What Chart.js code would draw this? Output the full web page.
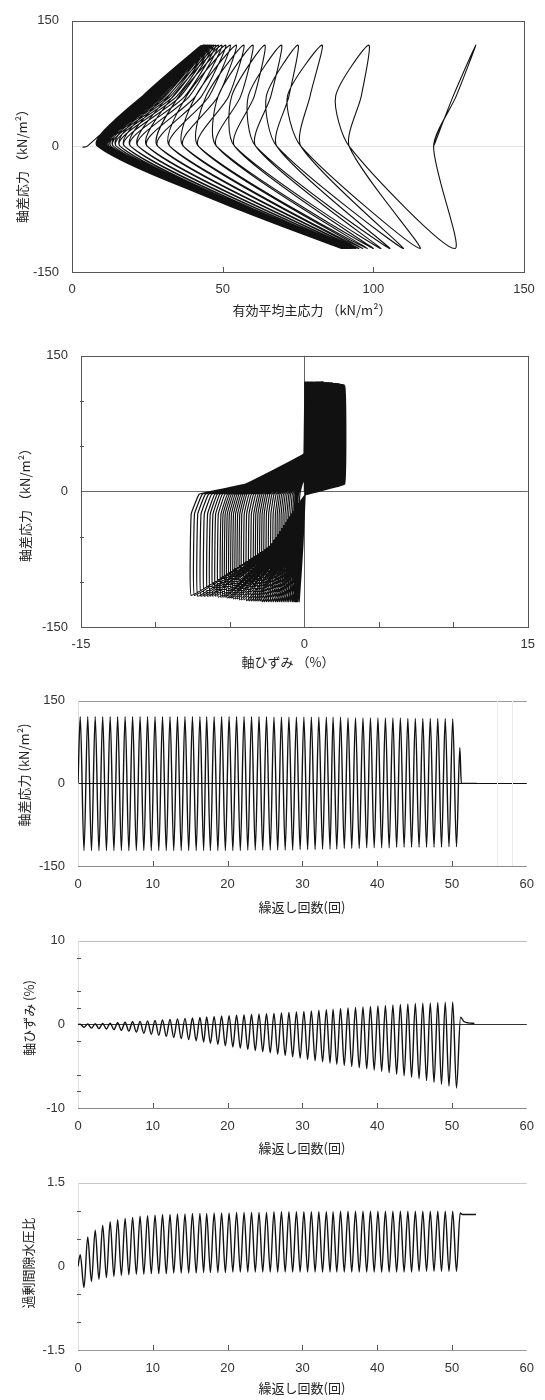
<!DOCTYPE html>
<html lang="ja">
<head>
<meta charset="utf-8">
<script src="https://cdn.jsdelivr.net/npm/chart.js@4.4.1/dist/chart.umd.min.js"></script>
<style>
  body { margin: 0; background: #fff; }
  #wrap { position: relative; width: 545px; height: 1400px; }
  canvas { position: absolute; left: 0; }
</style>
</head>
<body>
<div id="wrap">
  <canvas id="g1" width="545" height="330" style="top:0px"></canvas>
  <canvas id="g2" width="545" height="345" style="top:335px"></canvas>
  <canvas id="g3" width="545" height="240" style="top:680px"></canvas>
  <canvas id="g4" width="545" height="242" style="top:920px"></canvas>
  <canvas id="g5" width="545" height="238" style="top:1162px"></canvas>
</div>
<script>
// ---- cycle peaks read from the time histories (51 cycles) ----
const tTop = [0.3,1.3,2.3,3.3,4.3,5.3,6.3,7.3,8.3,9.3,10.3,11.3,12.3,13.3,14.3,15.3,16.3,
  17.2,18.2,19.2,20.2,21.2,22.2,23.2,24.2,25.2,26.2,27.2,28.2,29.2,30.2,31.2,32.2,33.2,
  34.1,35.1,36.1,37.1,38.1,39.1,40.1,41.1,42.1,43.1,44.1,45.1,46.1,47.1,48.1,49.1,50.1];
const tBot = [0.8,1.8,2.8,3.8,4.8,5.8,6.8,7.8,8.8,9.8,10.8,11.8,12.8,13.8,14.8,15.8,16.8,
  17.7,18.7,19.7,20.7,21.7,22.7,23.7,24.7,25.7,26.7,27.7,28.7,29.7,30.7,31.7,32.7,33.7,
  34.6,35.6,36.6,37.6,38.6,39.6,40.6,41.6,42.6,43.6,44.6,45.6,46.6,47.6,48.6,49.6,50.6];

// deviator stress at compression / extension peaks (kN/m2)
const qTop = [121,121,121,121,121,121,121,121,121,121,
  121,121,121,121,121,121,121,121,121,121,
  121,121,121,121,121,121,120,120,120,120,
  120,120,120,120,120,120,119,119,119,119,
  119,119,119,119,118,118,118,118,118,118,117];
const qBot = [-122,-122,-122,-122,-122,-122,-122,-122,-122,-122,
  -122,-122,-122,-122,-122,-122,-122,-122,-122,-122,
  -122,-122,-121,-121,-121,-121,-121,-121,-121,-120,
  -120,-120,-119,-119,-119,-118,-118,-118,-117,-117,
  -117,-117,-116,-116,-116,-116,-116,-116,-116,-115,-115];

// axial strain at the peaks (%)
const strainTop = [0.02,0.04,0.07,0.1,0.15,0.2,0.25,0.31,0.36,0.42,
  0.47,0.53,0.59,0.65,0.72,0.78,0.84,0.9,0.95,1.0,
  1.05,1.09,1.13,1.18,1.22,1.27,1.32,1.37,1.43,1.49,
  1.55,1.62,1.69,1.76,1.83,1.9,1.96,2.02,2.08,2.14,
  2.2,2.26,2.32,2.38,2.44,2.5,2.54,2.58,2.62,2.66,2.7];
const strainBot = [-0.35,-0.45,-0.5,-0.55,-0.62,-0.7,-0.8,-0.92,-1.05,-1.17,
  -1.3,-1.43,-1.56,-1.69,-1.82,-1.95,-2.1,-2.25,-2.4,-2.55,
  -2.7,-2.84,-2.98,-3.12,-3.26,-3.4,-3.56,-3.72,-3.88,-4.04,
  -4.2,-4.34,-4.48,-4.62,-4.76,-4.9,-5.04,-5.18,-5.32,-5.46,
  -5.6,-5.78,-5.96,-6.14,-6.32,-6.5,-6.72,-6.94,-7.16,-7.38,-7.6];

// excess pore water pressure ratio at the peaks
const ruTop = [0.21,0.53,0.65,0.74,0.8,0.84,0.86,0.88,0.9,0.91,
  0.92,0.93,0.93,0.94,0.94,0.95,0.95,0.95,0.96,0.96,
  0.96,0.97,0.97,0.97,0.97,0.97,0.98,0.98,0.98,0.98,
  0.98,0.98,0.98,0.98,0.98,0.99,0.99,0.99,0.99,0.99,
  0.99,0.99,0.99,0.99,0.99,0.99,0.99,0.99,0.99,0.99,0.99];
const ruBot = [-0.38,-0.27,-0.23,-0.2,-0.18,-0.16,-0.15,-0.14,-0.14,-0.13,
  -0.13,-0.13,-0.12,-0.12,-0.12,-0.12,-0.11,-0.11,-0.11,-0.11,
  -0.1,-0.1,-0.1,-0.1,-0.1,-0.1,-0.1,-0.1,-0.1,-0.1,
  -0.1,-0.1,-0.1,-0.1,-0.1,-0.1,-0.1,-0.1,-0.1,-0.1,
  -0.1,-0.1,-0.1,-0.1,-0.1,-0.09,-0.09,-0.09,-0.09,-0.09,-0.09];

// end of the test (after the last extension peak)
const tailTimeQ = [51.05, 51.25, 53.3];
const tailQ = [65, 0, 0];
const tailTimeStrain = [51.15, 51.6, 52.2, 53.0];
const tailStrain = [0.85, 0.35, 0.18, 0.12];
const tailTimeRu = [51.1, 51.4, 53.2];
const tailRu = [0.96, 0.93, 0.93];

// ---- effective stress path: p' (kN/m2) per cycle ----
const pathMidQ = 60;
const pStart = [120,92,76,68,61,54,48,42,37,32.5,
  28.5,25,22,19.5,17.5,16,14.8,13.8,13,12.4,
  11.9,11.5,11.2,10.9,10.7,10.5,10.3,10.1,10,9.9,
  9.8,9.7,9.6,9.5,9.4,9.3,9.2,9.1,9,9,
  8.9,8.9,8.8,8.8,8.7,8.7,8.6,8.6,8.5,8.5,8.5];
const pLoad60 = [126.5,87.5,71.5,64.5,58.5,53,48.5,44.5,41,38,
  35.5,33.5,32,30.5,29.5,28.5,27.5,27,26.5,26,
  25.6,25.3,25,24.8,24.6,24.5,24.4,24.3,24.2,24.1,
  24,24,23.9,23.9,23.8,23.8,23.7,23.7,23.7,23.6,
  23.6,23.6,23.5,23.5,23.5,23.5,23.4,23.4,23.4,23.4,23.4];
const pTop = [134,98.5,83,75,69.5,64,60,57,54.5,52.5,
  51,49.7,48.6,47.7,47,46.4,45.9,45.5,45.1,44.8,
  44.5,44.3,44.1,43.9,43.7,43.6,43.5,43.4,43.3,43.2,
  43.1,43,42.9,42.8,42.8,42.7,42.7,42.6,42.6,42.5,
  42.5,42.4,42.4,42.3,42.3,42.2,42.2,42.1,42.1,42,42];
const pUnload60 = [127.5,96,79,72,66,60.5,56,52,48.5,45.5,
  43,41,39,37.5,36,34.8,33.7,32.7,31.8,31,
  30.3,29.7,29.1,28.6,28.1,27.7,27.3,26.9,26.6,26.3,
  26,25.8,25.6,25.4,25.2,25,24.9,24.8,24.7,24.6,
  24.5,24.4,24.3,24.3,24.2,24.2,24.1,24.1,24,24,24];
const pBot = [127,115.5,110,105.5,102.5,100,98,96.5,95.2,94.2,
  93.4,92.7,92.1,91.6,91.2,90.9,90.6,90.3,90.1,89.9,
  89.7,89.6,89.5,89.4,89.3,89.2,89.1,89,89,88.9,
  88.9,88.8,88.8,88.7,88.7,88.6,88.6,88.5,88.5,88.4,
  88.4,88.3,88.3,88.3,88.2,88.2,88.2,88.1,88.1,88,88];
const pathTailP = [8.5, 25, 5, 3.5];
const pathTailQ = [0, 65, 0, -1];

// ---- stress-strain loops: strain (%) at intermediate points ----
const ssRiseQ = 112, ssDropQ = 8, ssBaseQ = -4, ssExtQ = -60, ssVertQ = -25, ssKneeQ = -3, ssBandQ = 8;
const ssBaseStrain = 0.05, ssEndStrain = -0.05;
const ssRise = [0.02,0.03,0.05,0.07,0.09,0.1,0.1,0.1,0.1,0.1,
  0.12,0.12,0.12,0.12,0.12,0.12,0.12,0.12,0.12,0.12,
  0.15,0.15,0.15,0.15,0.15,0.15,0.15,0.15,0.15,0.15,
  0.15,0.15,0.15,0.15,0.15,0.15,0.15,0.15,0.15,0.15,
  0.15,0.15,0.15,0.15,0.15,0.15,0.15,0.15,0.15,0.15,0.15];
const ssExt = [-0.1,-0.13,-0.15,-0.17,-0.19,-0.21,-0.24,-0.28,-0.32,-0.35,
  -0.39,-0.43,-0.47,-0.51,-0.55,-0.59,-0.63,-0.68,-0.72,-0.77,
  -0.81,-0.85,-0.89,-0.94,-0.98,-1.02,-1.07,-1.12,-1.16,-1.21,
  -1.26,-1.3,-1.34,-1.39,-1.43,-1.47,-1.51,-1.55,-1.6,-1.64,
  -1.68,-1.73,-1.79,-1.84,-1.9,-1.95,-2.02,-2.08,-2.15,-2.21,-2.28];
const ssKnee = [-0.3,-0.4,-0.44,-0.48,-0.54,-0.61,-0.7,-0.81,-0.93,-1.04,
  -1.16,-1.28,-1.4,-1.52,-1.64,-1.76,-1.9,-2.04,-2.18,-2.32,
  -2.46,-2.59,-2.72,-2.85,-2.98,-3.11,-3.26,-3.41,-3.56,-3.71,
  -3.86,-3.99,-4.12,-4.25,-4.38,-4.51,-4.64,-4.77,-4.9,-5.03,
  -5.16,-5.33,-5.5,-5.67,-5.84,-6.01,-6.22,-6.43,-6.64,-6.85,-7.06];
const ssMid = [-0.15,-0.2,-0.22,-0.25,-0.28,-0.32,-0.37,-0.43,-0.5,-0.56,
  -0.63,-0.7,-0.77,-0.84,-0.91,-0.98,-1.06,-1.14,-1.22,-1.3,
  -1.38,-1.46,-1.54,-1.61,-1.68,-1.76,-1.85,-1.93,-2.01,-2.1,
  -2.18,-2.26,-2.33,-2.4,-2.48,-2.55,-2.62,-2.7,-2.77,-2.84,
  -2.92,-3.01,-3.1,-3.2,-3.29,-3.38,-3.5,-3.61,-3.72,-3.84,-3.95];
const ssEndQ = [12,12,13,14,15,16,17,18,19,20,
  21,22,23,24,25,26,27,28,29,30,
  31,32,32,33,33,34,34,35,35,36,
  36,36,37,37,37,38,38,38,39,39,
  39,39,40,40,40,40,41,41,41,41,41];
const ssTailStrain = [0.55, 0.85, 0.2];
const ssTailQ = [65, 2, 0];

// ---- build the point lists ----
function historia(valTop, valBot, tailT, tailV) {
  const pts = [{ x: 0, y: 0 }];
  for (let k = 0; k < tTop.length; k++) {
    pts.push({ x: tTop[k], y: valTop[k] });
    pts.push({ x: tBot[k], y: valBot[k] });
  }
  tailT.forEach((t, i) => pts.push({ x: t, y: tailV[i] }));
  return pts;
}

const stressPath = [{ x: pStart[0], y: 0 }];
for (let k = 0; k < pTop.length; k++) {
  if (k > 0) stressPath.push({ x: pStart[k], y: 0 });
  stressPath.push({ x: pLoad60[k], y: pathMidQ });
  stressPath.push({ x: pTop[k], y: qTop[k] });
  stressPath.push({ x: pUnload60[k], y: pathMidQ });
  stressPath.push({ x: pStart[k], y: 0 });
  stressPath.push({ x: pBot[k], y: qBot[k] });
}
pathTailP.forEach((p, i) => stressPath.push({ x: p, y: pathTailQ[i] }));

const stressStrain = [{ x: 0, y: 0 }];
for (let k = 0; k < strainTop.length; k++) {
  stressStrain.push({ x: ssRise[k], y: ssRiseQ });
  stressStrain.push({ x: strainTop[k], y: qTop[k] });
  stressStrain.push({ x: strainTop[k], y: ssDropQ });
  stressStrain.push({ x: ssBaseStrain, y: ssBaseQ });
  stressStrain.push({ x: ssExt[k], y: ssExtQ });
  stressStrain.push({ x: strainBot[k], y: qBot[k] });
  stressStrain.push({ x: strainBot[k], y: ssVertQ });
  stressStrain.push({ x: ssKnee[k], y: ssKneeQ });
  stressStrain.push({ x: ssMid[k], y: ssBandQ });
  stressStrain.push({ x: ssEndStrain, y: ssEndQ[k] });
}
ssTailStrain.forEach((e, i) => stressStrain.push({ x: e, y: ssTailQ[i] }));

// ---- lines, small ticks and axis titles ----
const pluginDecor = {
  id: 'decor',
  beforeDatasetsDraw(chart, args, opts) {
    const { ctx, chartArea: { left, right, top, bottom }, scales: { x, y } } = chart;
    ctx.save();
    ctx.lineWidth = 1;
    (opts.hLines || []).forEach(l => {
      const py = Math.round(y.getPixelForValue(l.value)) + 0.5;
      ctx.strokeStyle = l.color;
      ctx.beginPath();
      ctx.moveTo(left, py);
      ctx.lineTo(right, py);
      ctx.stroke();
    });
    (opts.vLines || []).forEach(l => {
      const px = Math.round(x.getPixelForValue(l.value)) + 0.5;
      ctx.strokeStyle = l.color;
      ctx.beginPath();
      ctx.moveTo(px, top);
      ctx.lineTo(px, bottom);
      ctx.stroke();
    });
    ctx.restore();
  },
  afterDatasetsDraw(chart, args, opts) {
    const { ctx, chartArea: { left, right, top, bottom }, scales: { x, y } } = chart;
    ctx.save();
    ctx.lineWidth = 1;
    if (opts.frame) {
      ctx.strokeStyle = opts.frame;
      ctx.strokeRect(Math.round(left) + 0.5, Math.round(top) + 0.5,
        Math.round(right - left), Math.round(bottom - top));
    }
    ctx.strokeStyle = '#555';
    (opts.xTicks || []).forEach(v => {
      const px = Math.round(x.getPixelForValue(v)) + 0.5;
      ctx.beginPath();
      ctx.moveTo(px, bottom);
      ctx.lineTo(px, bottom - 5);
      ctx.stroke();
    });
    (opts.yTicks || []).forEach(v => {
      const py = Math.round(y.getPixelForValue(v)) + 0.5;
      ctx.beginPath();
      ctx.moveTo(left - 1, py);
      ctx.lineTo(left + 3, py);
      ctx.stroke();
    });
    ctx.fillStyle = '#222';
    ctx.font = "13px 'Noto Sans CJK JP'";
    ctx.textAlign = 'center';
    ctx.textBaseline = 'middle';
    ctx.fillText(opts.xTitle.text, opts.xTitle.x, opts.xTitle.y);
    ctx.translate(opts.yTitle.x, opts.yTitle.y);
    ctx.rotate(-Math.PI / 2);
    ctx.fillText(opts.yTitle.text, 0, 0);
    ctx.restore();
  }
};
Chart.register(pluginDecor);

Chart.defaults.font.family = "'Liberation Sans', Arial, sans-serif";
Chart.defaults.font.size = 13;
Chart.defaults.color = '#333';

function crearPanel(id, c) {
  const canvas = document.getElementById(id);
  const H = canvas.height;
  return new Chart(canvas, {
    type: 'scatter',
    data: {
      datasets: [{
        data: c.data,
        showLine: true,
        borderColor: '#111',
        borderWidth: c.lineWidth,
        pointRadius: 0,
        tension: c.tension,
        cubicInterpolationMode: c.monotone ? 'monotone' : 'default'
      }]
    },
    options: {
      responsive: false,
      animation: false,
      devicePixelRatio: 1,
      layout: { padding: { top: c.top, right: 545 - c.right, left: 0, bottom: 0 } },
      plugins: { legend: { display: false }, tooltip: { enabled: false }, decor: c.decor },
      scales: {
        x: {
          type: 'linear', min: c.x[0], max: c.x[1],
          ticks: { stepSize: c.x[2], padding: c.xPad },
          grid: { display: false, drawTicks: false },
          border: { display: false },
          afterFit: s => { s.height = H - c.bottom; }
        },
        y: {
          min: c.y[0], max: c.y[1],
          ticks: { stepSize: c.y[2], padding: 13 },
          grid: { display: false, drawTicks: false },
          border: { display: false },
          afterFit: s => { s.width = c.left; }
        }
      }
    }
  });
}

const ejeN = '繰返し回数(回)';

crearPanel('g1', {
  data: stressPath, lineWidth: 1.1, tension: 0.25,
  top: 12, bottom: 272, left: 72, right: 524, xPad: 10,
  x: [0, 150, 50], y: [-150, 150, 150],
  decor: {
    frame: '#555',
    hLines: [{ value: 0, color: '#e4e4e4' }],
    xTicks: [50, 100],
    xTitle: { text: '有効平均主応力 （kN/m²）', x: 312, y: 310 },
    yTitle: { text: '軸差応力 （kN/m²）', x: 22, y: 163 }
  }
});

crearPanel('g2', {
  data: stressStrain, lineWidth: 1.2, tension: 0.06,
  top: 18, bottom: 292, left: 81, right: 528, xPad: 10,
  x: [-15, 15, 15], y: [-150, 150, 150],
  decor: {
    frame: '#555',
    hLines: [{ value: 0, color: '#666' }],
    vLines: [{ value: 0, color: '#666' }],
    xTicks: [-10, -5, 5, 10],
    yTicks: [-100, -50, 50, 100],
    xTitle: { text: '軸ひずみ （%）', x: 288, y: 327 },
    yTitle: { text: '軸差応力 （kN/m²）', x: 25, y: 167 }
  }
});

crearPanel('g3', {
  data: historia(qTop, qBot, tailTimeQ, tailQ), lineWidth: 1.4, monotone: true,
  top: 15, bottom: 186, left: 78, right: 528, xPad: 11,
  x: [0, 60, 10], y: [-150, 150, 150],
  decor: {
    hLines: [{ value: 150, color: '#9a9a9a' }, { value: -150, color: '#8a8a8a' }, { value: 0, color: '#111' }],
    vLines: [{ value: 0, color: '#dddddd' }, { value: 56, color: '#ececec' }, { value: 58, color: '#ececec' }],
    xTicks: [10, 20, 30, 40, 50],
    xTitle: { text: ejeN, x: 302, y: 227 },
    yTitle: { text: '軸差応力 (kN/m²)', x: 24, y: 95 }
  }
});

crearPanel('g4', {
  data: historia(strainTop, strainBot, tailTimeStrain, tailStrain), lineWidth: 1.4, monotone: true,
  top: 17, bottom: 188, left: 78, right: 528, xPad: 11,
  x: [0, 60, 10], y: [-10, 10, 10],
  decor: {
    hLines: [{ value: 10, color: '#bdbdbd' }, { value: -10, color: '#8a8a8a' }, { value: 0, color: '#333' }],
    vLines: [{ value: 0, color: '#dddddd' }],
    xTicks: [10, 20, 30, 40, 50],
    yTicks: [8, 4, 2, -2, -6, -8],
    xTitle: { text: ejeN, x: 302, y: 228 },
    yTitle: { text: '軸ひずみ (%)', x: 29, y: 98 }
  }
});

crearPanel('g5', {
  data: historia(ruTop, ruBot, tailTimeRu, tailRu), lineWidth: 1.4, monotone: true,
  top: 16, bottom: 188, left: 78, right: 528, xPad: 11,
  x: [0, 60, 10], y: [-1.5, 1.5, 1.5],
  decor: {
    hLines: [{ value: 1.5, color: '#c8c8c8' }, { value: -1.5, color: '#9a9a9a' }],
    vLines: [{ value: 0, color: '#dddddd' }],
    xTicks: [10, 20, 30, 40, 50],
    yTicks: [1, 0.5, -0.5, -1],
    xTitle: { text: ejeN, x: 302, y: 226 },
    yTitle: { text: '過剰間隙水圧比', x: 28, y: 101 }
  }
});
</script>
</body>
</html>
